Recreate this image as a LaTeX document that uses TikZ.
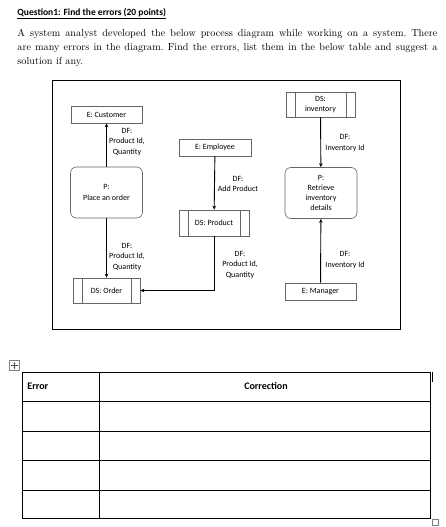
\documentclass[tikz,border=0pt]{standalone}
\usepackage{fontspec}
\newfontfamily\calfont{Carlito}
\usetikzlibrary{arrows.meta}
\begin{document}
\begin{tikzpicture}[x=1pt, y=-1pt, ->, >={Stealth[length=4pt,width=3.5pt]}, line width=0.9pt,
    every node/.style={font=\calfont\fontsize{8}{10.3}\selectfont, inner sep=0pt, align=center},
    entity/.style={draw=black!60, line width=0.6pt, minimum height=17pt, minimum width=71pt},
    process/.style={draw=black!60, line width=0.6pt, rounded corners=6pt, minimum height=51pt, minimum width=72pt},
    store/.style={draw=black!60, line width=0.6pt, minimum height=25pt, minimum width=69pt,
        path picture={\draw[-, black!60, line width=0.6pt]
            ([xshift=9pt]path picture bounding box.north west) -- ([xshift=9pt]path picture bounding box.south west)
            ([xshift=-9pt]path picture bounding box.north east) -- ([xshift=-9pt]path picture bounding box.south east);}},
    head/.style={font=\calfont\bfseries\fontsize{10}{12}\selectfont}]
    \useasboundingbox (0,0) rectangle (445,527);
    % question text
    \node[anchor=base west, font=\calfont\bfseries\fontsize{9.5}{11}\selectfont] (title) at (17,15.5)
        {\underline{Question1: Find the errors (20 points)}};
    \node[anchor=base west, text width=420pt, align=justify, font=\rmfamily\fontsize{10.2}{14}\selectfont] (intro) at (17,37)
        {\frenchspacing A system analyst developed the below process diagram while working on a system. There\linebreak
        are many errors in the diagram. Find the errors, list them in the below table and suggest a\linebreak
        solution if any.};
    % diagram
    \draw[-] (52,80) rectangle (400,329);
    \node[entity] (cust) at (106.5,114.5) {E: Customer};
    \node[process] (place) at (106.5,192.5) {P:\\Place an order};
    \node[store, minimum width=67pt] (order) at (106.5,290.5) {DS: Order};
    \node[entity, minimum width=72pt] (emp) at (215,147.5) {E: Employee};
    \node[store, minimum width=70pt, minimum height=26pt] (prod) at (214,223) {DS: Product};
    \node[store] (inv) at (320.5,104.5) {DS:\\inventory};
    \node[process] (retr) at (321,193) {P:\\Retrieve\\inventory\\details};
    \node[entity] (mgr) at (320.5,291.5) {E: Manager};
    \node (df1) at (127,142) {DF:\\Product Id,\\Quantity};
    \node (df2) at (127,257) {DF:\\Product Id,\\Quantity};
    \node (df3) at (238,184) {DF:\\Add Product};
    \node (df4) at (240,265) {DF:\\Product Id,\\Quantity};
    \node (df5) at (345,143) {DF:\\Inventory Id};
    \node (df6) at (345,260) {DF:\\Inventory Id};
    \path
    (place) edge (cust)
    (place) edge (order)
    (emp) edge (prod)
    (inv) edge (retr)
    (mgr) edge (retr);
    \draw (prod.south) |- (order.east);
    % table
    \begin{scope}[-]
        \draw[black!50, line width=0.5pt] (9.5,360.5) rectangle (19.5,370.5);
        \draw[black!70, line width=0.4pt, <->, >={Stealth[length=1.5pt,width=1.5pt]}]
            (11,365.5) -- (18,365.5) (14.5,362) -- (14.5,369);
        \draw (22,372) rectangle (430,518);
        \foreach \y in {401,431,460,490}
            \draw (22,\y) -- (430,\y);
        \draw (99,372) -- (99,518);
        \draw (432,372) -- (432,382);
        \draw[black!50, line width=0.5pt] (432.5,519.5) rectangle (438.5,525.5);
    \end{scope}
    \node[head, anchor=base west] (err) at (27,389.5) {Error};
    \node[head, anchor=base] (corr) at (266,389.5) {Correction};
\end{tikzpicture}
\end{document}
